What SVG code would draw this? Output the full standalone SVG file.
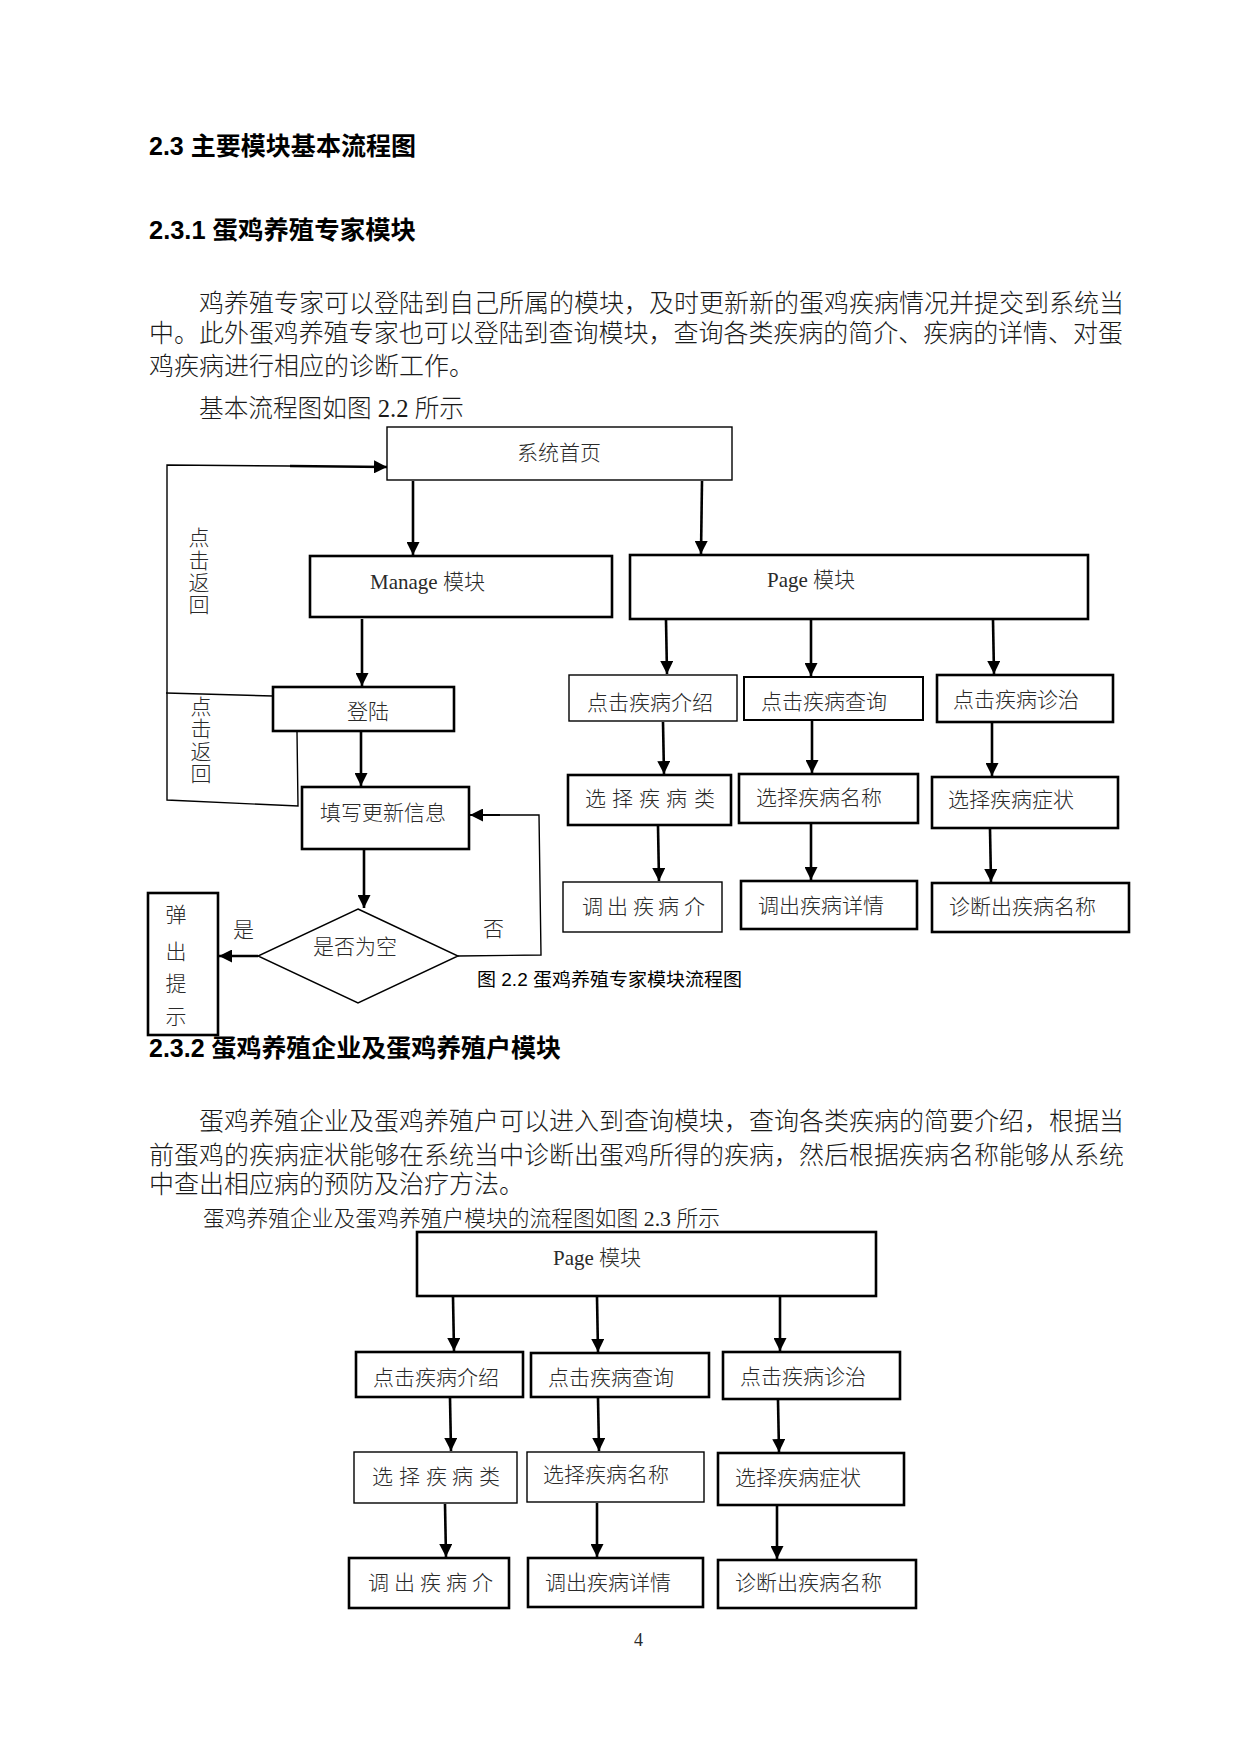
<svg xmlns="http://www.w3.org/2000/svg" width="1241" height="1754" viewBox="0 0 1241 1754">
<defs>
<marker id="ah" markerUnits="userSpaceOnUse" markerWidth="13" markerHeight="13" viewBox="0 0 13 13" refX="13" refY="6.5" orient="auto">
<path d="M0,0 L13,6.5 L0,13 z" fill="#000"/>
</marker>
<style>
.bx{fill:#fff;stroke:#000;stroke-width:1.4}
.bk{fill:#fff;stroke:#000;stroke-width:2.6}
.ar{fill:none;stroke:#000;stroke-width:2.6;marker-end:url(#ah)}
.ln{fill:none;stroke:#000;stroke-width:1.4}
.t{font-family:"Liberation Serif","Noto Sans CJK SC",serif;font-size:21px;font-weight:300;fill:#2a2a2a;dominant-baseline:central}
.p{font-family:"Liberation Serif","Noto Sans CJK SC",serif;font-size:25px;font-weight:300;fill:#1a1a1a;dominant-baseline:central}
.h{font-family:"Liberation Sans","Noto Sans CJK SC",sans-serif;font-size:25px;font-weight:bold;fill:#000;dominant-baseline:central}
.c{font-family:"Liberation Sans","Noto Sans CJK SC",sans-serif;font-size:18px;fill:#000;dominant-baseline:central}
</style>
</defs>
<rect width="1241" height="1754" fill="#fff"/>

<g id="text-body">
<text class="h" x="149" y="146" textLength="267" lengthAdjust="spacingAndGlyphs">2.3 主要模块基本流程图</text>
<text class="h" x="149" y="230" textLength="267" lengthAdjust="spacingAndGlyphs">2.3.1 蛋鸡养殖专家模块</text>
<text class="p" x="199" y="303" textLength="925" lengthAdjust="spacingAndGlyphs">鸡养殖专家可以登陆到自己所属的模块，及时更新新的蛋鸡疾病情况并提交到系统当</text>
<text class="p" x="149" y="333" textLength="974" lengthAdjust="spacingAndGlyphs">中。此外蛋鸡养殖专家也可以登陆到查询模块，查询各类疾病的简介、疾病的详情、对蛋</text>
<text class="p" x="149" y="366">鸡疾病进行相应的诊断工作。</text>
<text class="p" x="199" y="408" textLength="265" lengthAdjust="spacingAndGlyphs">基本流程图如图 2.2 所示</text>
<text class="c" x="477" y="980" textLength="265" lengthAdjust="spacingAndGlyphs">图 2.2 蛋鸡养殖专家模块流程图</text>
<text class="h" x="149" y="1048" textLength="412" lengthAdjust="spacingAndGlyphs">2.3.2 蛋鸡养殖企业及蛋鸡养殖户模块</text>
<text class="p" x="199" y="1121" textLength="925" lengthAdjust="spacingAndGlyphs">蛋鸡养殖企业及蛋鸡养殖户可以进入到查询模块，查询各类疾病的简要介绍，根据当</text>
<text class="p" x="149" y="1155" textLength="975" lengthAdjust="spacingAndGlyphs">前蛋鸡的疾病症状能够在系统当中诊断出蛋鸡所得的疾病，然后根据疾病名称能够从系统</text>
<text class="p" x="149" y="1184">中查出相应病的预防及治疗方法。</text>
<text class="p" x="203" y="1218" style="font-size:22px" textLength="517" lengthAdjust="spacingAndGlyphs">蛋鸡养殖企业及蛋鸡养殖户模块的流程图如图 2.3 所示</text>
<text class="t" x="634" y="1640" style="font-size:18px">4</text>
</g>

<g id="connectors">
<path class="ar" d="M413,481 L413,555"/>
<path class="ar" d="M702,481 L701,554"/>
<path class="ar" d="M362,619 L362,686"/>
<path class="ar" d="M361,732 L361,786"/>
<path class="ar" d="M364,850 L364,908"/>
<path class="ar" d="M666,620 L667,674"/>
<path class="ar" d="M811,620 L811,676"/>
<path class="ar" d="M993,620 L994,674"/>
<path class="ar" d="M663,722 L664,774"/>
<path class="ar" d="M812,721 L812,773"/>
<path class="ar" d="M992,723 L992,776"/>
<path class="ar" d="M658,826 L659,881"/>
<path class="ar" d="M811,824 L811,880"/>
<path class="ar" d="M990,829 L991,882"/>
<path class="ln" d="M297,732 L298,806 L167,800 L167,465 L290,466"/>
<path class="ar" d="M290,466 L387,467"/>
<path class="ln" d="M273,696 L166,693"/>
<path class="ln" d="M458,956 L541,955 L539,815 L500,815"/>
<path class="ar" style="stroke-width:2" d="M500,815 L470,815"/>
<path class="ar" d="M258,956 L219,956"/>
<path class="ar" d="M453,1297 L454,1351"/>
<path class="ar" d="M597,1297 L598,1352"/>
<path class="ar" d="M780,1297 L780,1351"/>
<path class="ar" d="M450,1398 L451,1451"/>
<path class="ar" d="M598,1398 L599,1451"/>
<path class="ar" d="M778,1400 L779,1452"/>
<path class="ar" d="M445,1504 L446,1557"/>
<path class="ar" d="M597,1503 L597,1557"/>
<path class="ar" d="M777,1506 L777,1559"/>
</g>

<g id="label-back1">
<text class="t" x="199" y="538" text-anchor="middle">点</text>
<text class="t" x="199" y="561" text-anchor="middle">击</text>
<text class="t" x="199" y="583" text-anchor="middle">返</text>
<text class="t" x="199" y="605" text-anchor="middle">回</text>
</g>
<g id="label-back2">
<text class="t" x="201" y="707" text-anchor="middle">点</text>
<text class="t" x="201" y="729" text-anchor="middle">击</text>
<text class="t" x="201" y="752" text-anchor="middle">返</text>
<text class="t" x="201" y="774" text-anchor="middle">回</text>
</g>
<g id="label-yes"><text class="t" x="233" y="930">是</text></g>
<g id="label-no"><text class="t" x="483" y="929">否</text></g>

<g id="n-home"><rect class="bx" x="387" y="427" width="345" height="53"/><text class="t" x="517" y="453">系统首页</text></g>
<g id="n-manage"><rect class="bk" x="310" y="556" width="302" height="61"/><text class="t" x="370" y="582">Manage 模块</text></g>
<g id="n-page1"><rect class="bk" x="630" y="555" width="458" height="64"/><text class="t" x="767" y="580">Page 模块</text></g>
<g id="n-login"><rect class="bk" x="273" y="687" width="181" height="44"/><text class="t" x="347" y="712">登陆</text></g>
<g id="n-fill"><rect class="bk" x="302" y="787" width="167" height="62"/><text class="t" x="320" y="813">填写更新信息</text></g>
<g id="n-empty"><polygon class="bx" points="358,909 458,956 358,1003 258,956"/><text class="t" x="313" y="947">是否为空</text></g>
<g id="n-popup"><rect class="bk" x="148" y="893" width="70" height="142"/>
<text class="t" x="176" y="915" text-anchor="middle">弹</text>
<text class="t" x="176" y="952" text-anchor="middle">出</text>
<text class="t" x="176" y="984" text-anchor="middle">提</text>
<text class="t" x="176" y="1017" text-anchor="middle">示</text></g>

<g id="n1-intro"><rect class="bx" x="569" y="675" width="168" height="46"/><text class="t" x="587" y="703">点击疾病介绍</text></g>
<g id="n1-query"><rect class="bx" x="744" y="677" width="179" height="43" style="stroke-width:2"/><text class="t" x="761" y="702">点击疾病查询</text></g>
<g id="n1-diag"><rect class="bk" x="937" y="675" width="176" height="47"/><text class="t" x="953" y="700">点击疾病诊治</text></g>
<g id="n1-type"><rect class="bk" x="568" y="775" width="163" height="50"/><text class="t" x="585 612 639 666 694" y="799">选择疾病类</text></g>
<g id="n1-name"><rect class="bk" x="739" y="774" width="179" height="49"/><text class="t" x="756" y="798">选择疾病名称</text></g>
<g id="n1-symp"><rect class="bk" x="932" y="777" width="186" height="51"/><text class="t" x="948" y="800">选择疾病症状</text></g>
<g id="n1-out"><rect class="bx" x="563" y="882" width="159" height="50"/><text class="t" x="582 607 633 658 684" y="907">调出疾病介</text></g>
<g id="n1-detail"><rect class="bk" x="741" y="881" width="176" height="48"/><text class="t" x="758" y="906">调出疾病详情</text></g>
<g id="n1-result"><rect class="bk" x="932" y="883" width="197" height="49"/><text class="t" x="949" y="907">诊断出疾病名称</text></g>

<g id="n2-page"><rect class="bk" x="417" y="1232" width="459" height="64"/><text class="t" x="553" y="1258">Page 模块</text></g>
<g id="n2-intro"><rect class="bk" x="356" y="1352" width="167" height="45"/><text class="t" x="373" y="1378">点击疾病介绍</text></g>
<g id="n2-query"><rect class="bk" x="531" y="1353" width="178" height="44"/><text class="t" x="548" y="1378">点击疾病查询</text></g>
<g id="n2-diag"><rect class="bk" x="723" y="1352" width="177" height="47"/><text class="t" x="740" y="1377">点击疾病诊治</text></g>
<g id="n2-type"><rect class="bx" x="354" y="1452" width="163" height="51"/><text class="t" x="372 399 426 452 479" y="1477">选择疾病类</text></g>
<g id="n2-name"><rect class="bx" x="527" y="1452" width="177" height="50"/><text class="t" x="543" y="1475">选择疾病名称</text></g>
<g id="n2-symp"><rect class="bk" x="718" y="1453" width="186" height="52"/><text class="t" x="735" y="1478">选择疾病症状</text></g>
<g id="n2-out"><rect class="bk" x="349" y="1558" width="160" height="50"/><text class="t" x="368 394 420 446 472" y="1583">调出疾病介</text></g>
<g id="n2-detail"><rect class="bk" x="528" y="1558" width="175" height="49"/><text class="t" x="545" y="1583">调出疾病详情</text></g>
<g id="n2-result"><rect class="bk" x="718" y="1560" width="198" height="48"/><text class="t" x="735" y="1583">诊断出疾病名称</text></g>
</svg>
